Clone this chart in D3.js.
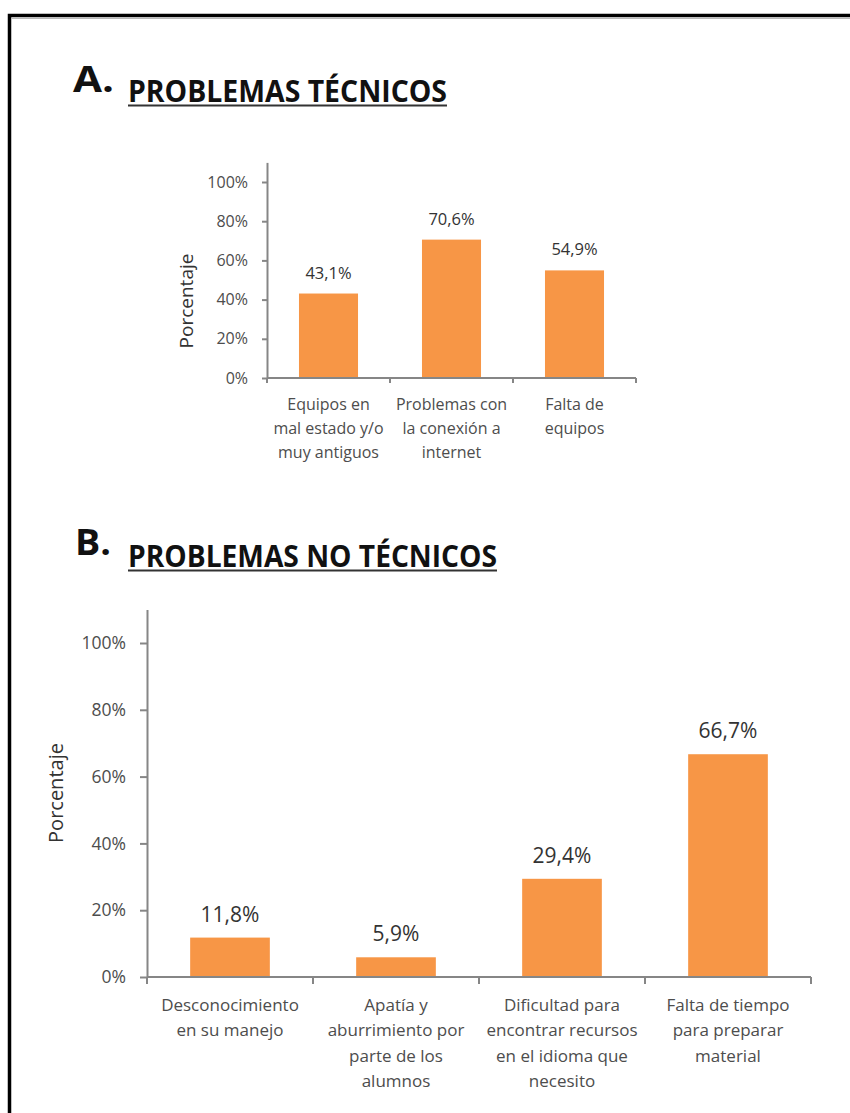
<!DOCTYPE html>
<html>
<head>
<meta charset="utf-8">
<script src="https://cdn.jsdelivr.net/npm/d3@7"></script>
<style>
  html, body { margin: 0; padding: 0; background: #fff; }
  svg { display: block; }
  text { font-family: "Open Sans", "Noto Sans", sans-serif; }
</style>
</head>
<body>
<svg id="chart" width="850" height="1113"></svg>
<script>
// ---------- DATA ----------
const titleA = "PROBLEMAS TÉCNICOS";
const titleB = "PROBLEMAS NO TÉCNICOS";
const yLabel = "Porcentaje";

const categoriesA = ["equipos_mal_estado", "conexion_internet", "falta_equipos"];
const labelsA = [
  ["Equipos en", "mal estado y/o", "muy antiguos"],
  ["Problemas con", "la conexión a", "internet"],
  ["Falta de", "equipos"]
];
const valuesA = [43.1, 70.6, 54.9];

const categoriesB = ["desconocimiento", "apatia", "dificultad_recursos", "falta_tiempo"];
const labelsB = [
  ["Desconocimiento", "en su manejo"],
  ["Apatía y", "aburrimiento por", "parte de los", "alumnos"],
  ["Dificultad para", "encontrar recursos", "en el idioma que", "necesito"],
  ["Falta de tiempo", "para preparar", "material"]
];
const valuesB = [11.8, 5.9, 29.4, 66.7];

const yTicks = [0, 20, 40, 60, 80, 100];
const yMax = 110;

// ---------- STYLE ----------
const barColor = "#F79646";
const axisColor = "#868686";
const tickTextColor = "#4d4d4d";
const valueTextColor = "#333333";

const svg = d3.select("#chart");

// frame
svg.append("rect")
  .attr("x", 9.5).attr("y", 15.5)
  .attr("width", 900).attr("height", 1200)
  .attr("fill", "none").attr("stroke", "#000").attr("stroke-width", 3.5);
svg.append("line")
  .attr("x1", 11).attr("x2", 850).attr("y1", 18.5).attr("y2", 18.5)
  .attr("stroke", "#b8b8b8").attr("stroke-width", 1);

function fmt(v) { return v.toFixed(1).replace(".", ",") + "%"; }

function title(letter, text, cfg) {
  svg.append("text")
    .attr("x", cfg.lx).attr("y", cfg.lBase)
    .attr("font-size", 36).attr("font-weight", 700).attr("fill", "#111")
    .attr("textLength", cfg.lw).attr("lengthAdjust", "spacingAndGlyphs")
    .text(letter);
  svg.append("text")
    .attr("x", cfg.tx).attr("y", cfg.tBase)
    .attr("font-size", 30).attr("font-weight", 700).attr("fill", "#111")
    .attr("textLength", cfg.tw).attr("lengthAdjust", "spacingAndGlyphs")
    .text(text);
  svg.append("line")
    .attr("x1", cfg.tx).attr("x2", cfg.tx + cfg.tw)
    .attr("y1", cfg.uy).attr("y2", cfg.uy)
    .attr("stroke", "#333").attr("stroke-width", 2);
}

function barChart(cfg) {
  const g = svg.append("g");
  const x = d3.scaleBand()
    .domain(cfg.categories)
    .range([cfg.x0, cfg.x1])
    .paddingInner(0.52)
    .paddingOuter(0.26);
  const y = d3.scaleLinear().domain([0, yMax]).range([cfg.y0, cfg.yTop]);

  // bars
  g.selectAll("rect.bar")
    .data(cfg.values)
    .join("rect")
    .attr("class", "bar")
    .attr("x", (d, i) => x(cfg.categories[i]))
    .attr("width", x.bandwidth())
    .attr("y", d => y(d))
    .attr("height", d => y(0) - y(d))
    .attr("fill", barColor);

  // y axis
  const yAxis = d3.axisLeft(y)
    .tickValues(yTicks)
    .tickFormat(d => d + "%")
    .tickSizeInner(cfg.tick)
    .tickSizeOuter(0)
    .tickPadding(cfg.tickPad);
  const ya = g.append("g").attr("transform", `translate(${cfg.x0},0)`).call(yAxis);
  ya.select(".domain").attr("stroke", axisColor).attr("stroke-width", 2);
  ya.selectAll(".tick line").attr("stroke", axisColor).attr("stroke-width", 2);
  ya.selectAll(".tick text")
    .attr("font-family", "Open Sans, sans-serif")
    .attr("font-size", cfg.tickFont).attr("fill", tickTextColor);

  // x axis line + boundary ticks
  g.append("line")
    .attr("x1", cfg.x0).attr("x2", cfg.x1)
    .attr("y1", y(0)).attr("y2", y(0))
    .attr("stroke", axisColor).attr("stroke-width", 2);
  const step = x.step();
  const bounds = d3.range(cfg.categories.length + 1).map(i => cfg.x0 + i * step);
  g.selectAll("line.xt")
    .data(bounds)
    .join("line")
    .attr("class", "xt")
    .attr("x1", d => d).attr("x2", d => d)
    .attr("y1", y(0)).attr("y2", y(0) + cfg.tick)
    .attr("stroke", axisColor).attr("stroke-width", 2);

  // category labels
  const cats = g.selectAll("text.cat")
    .data(cfg.labels)
    .join("text")
    .attr("class", "cat")
    .attr("text-anchor", "middle")
    .attr("font-size", cfg.catFont)
    .attr("fill", tickTextColor);
  cats.each(function (lines, i) {
    const cx = x(cfg.categories[i]) + x.bandwidth() / 2;
    d3.select(this).selectAll("tspan")
      .data(lines)
      .join("tspan")
      .attr("x", cx)
      .attr("y", (d, j) => cfg.catY + j * cfg.catLH)
      .text(d => d);
  });

  // value labels
  g.selectAll("text.val")
    .data(cfg.values)
    .join("text")
    .attr("class", "val")
    .attr("text-anchor", "middle")
    .attr("x", (d, i) => x(cfg.categories[i]) + x.bandwidth() / 2)
    .attr("y", d => y(d) - cfg.valGap)
    .attr("font-size", cfg.valFont)
    .attr("fill", valueTextColor)
    .text(d => fmt(d));

  // y label
  g.append("text")
    .attr("transform", `translate(${cfg.ylx},${cfg.yly}) rotate(-90)`)
    .attr("text-anchor", "middle")
    .attr("font-size", cfg.ylFont)
    .attr("fill", valueTextColor)
    .text(yLabel);
}

title("A.", titleA, { lx: 73, lBase: 92, lw: 41, tx: 128, tBase: 102, tw: 319, uy: 105.5 });
title("B.", titleB, { lx: 75, lBase: 555, lw: 36, tx: 128, tBase: 567, tw: 369, uy: 570.5 });

barChart({
  categories: categoriesA, labels: labelsA, values: valuesA,
  x0: 267, x1: 636, y0: 378, yTop: 378 - 1.96 * yMax,
  tick: 5, tickPad: 14, tickFont: 16,
  catFont: 16, catY: 410, catLH: 24,
  valFont: 16.5, valGap: 15,
  ylx: 193, yly: 301, ylFont: 19
});

barChart({
  categories: categoriesB, labels: labelsB, values: valuesB,
  x0: 147, x1: 811, y0: 977, yTop: 977 - 3.34 * yMax,
  tick: 7, tickPad: 14, tickFont: 17.5,
  catFont: 17, catY: 1011, catLH: 25.3,
  valFont: 21, valGap: 16,
  ylx: 63, yly: 793, ylFont: 20
});
</script>
</body>
</html>
